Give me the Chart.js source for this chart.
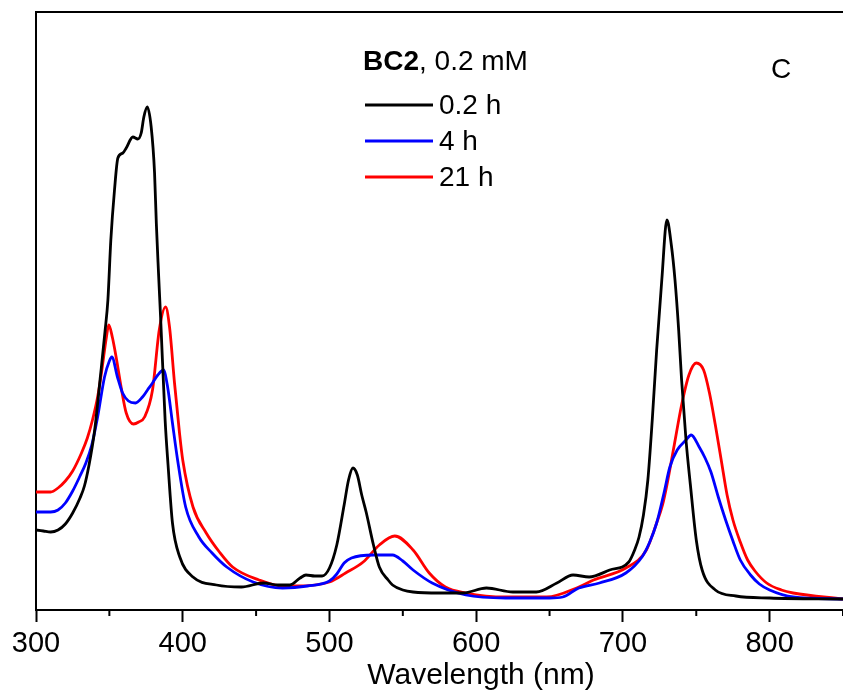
<!DOCTYPE html>
<html>
<head>
<meta charset="utf-8">
<script src="https://cdn.jsdelivr.net/npm/chart.js@4.4.0/dist/chart.umd.min.js"></script>
<style>
  html, body { margin: 0; padding: 0; background: #fff; }
  #wrap { width: 843px; height: 693px; position: relative; }
</style>
</head>
<body>
<div id="wrap"><canvas id="chart"></canvas></div>
<script>
// spectra (absorbance, arbitrary scale)
const blackNm = [300, 305, 310, 315, 320, 325, 330, 333, 336, 340, 344, 347, 349, 351, 353.5, 355.8, 359.2, 361.5, 366, 369.4, 371.7, 373.5, 375.8, 378.5, 380.8, 382, 383.5, 385, 388, 390, 393, 398, 407, 423, 440, 455, 465, 473, 480, 484, 490, 495, 500, 505, 510, 513, 516, 519, 522, 525, 530, 534, 540, 543, 550, 557, 575, 591, 607, 625, 641, 655, 666, 677, 691, 704, 708, 711, 714, 717, 720, 723, 726.5, 730, 733, 735.5, 738, 740, 743, 746, 750, 754, 763, 777, 800, 850];
const blackAbs = [0.160, 0.158, 0.156, 0.160, 0.172, 0.194, 0.224, 0.248, 0.288, 0.360, 0.470, 0.556, 0.620, 0.740, 0.840, 0.904, 0.914, 0.924, 0.946, 0.942, 0.954, 0.986, 1.006, 0.966, 0.874, 0.774, 0.674, 0.580, 0.380, 0.290, 0.174, 0.106, 0.066, 0.050, 0.046, 0.054, 0.050, 0.050, 0.064, 0.070, 0.068, 0.068, 0.084, 0.130, 0.210, 0.260, 0.284, 0.270, 0.230, 0.196, 0.130, 0.086, 0.060, 0.050, 0.040, 0.036, 0.034, 0.034, 0.044, 0.036, 0.036, 0.054, 0.070, 0.066, 0.080, 0.096, 0.120, 0.146, 0.190, 0.260, 0.380, 0.520, 0.660, 0.780, 0.730, 0.660, 0.560, 0.460, 0.340, 0.250, 0.140, 0.080, 0.040, 0.028, 0.024, 0.022];

const blueNm = [300, 310, 315, 320, 325, 330, 334, 338, 342, 346.7, 350, 351.7, 355.5, 359, 363, 367.8, 372.6, 376, 379.4, 383, 386.9, 389.7, 393, 396.5, 402, 411, 420, 430, 448, 468, 485, 500, 505, 510, 515, 530, 543, 550, 557, 570, 593, 620, 650, 659, 670, 684, 702, 713, 718, 723, 728, 732, 737, 743, 746.5, 752, 756, 760, 765, 770, 775, 780, 787, 793, 800, 816, 850];
const blueAbs = [0.196, 0.196, 0.200, 0.214, 0.238, 0.268, 0.294, 0.330, 0.386, 0.466, 0.498, 0.506, 0.466, 0.434, 0.418, 0.414, 0.426, 0.440, 0.454, 0.470, 0.480, 0.446, 0.374, 0.300, 0.206, 0.146, 0.114, 0.086, 0.056, 0.044, 0.048, 0.058, 0.072, 0.094, 0.104, 0.110, 0.110, 0.098, 0.080, 0.054, 0.030, 0.024, 0.024, 0.026, 0.044, 0.054, 0.074, 0.106, 0.134, 0.174, 0.234, 0.286, 0.320, 0.340, 0.350, 0.326, 0.304, 0.276, 0.226, 0.180, 0.138, 0.100, 0.070, 0.052, 0.040, 0.026, 0.022];

const redNm = [300, 310, 315, 320, 325, 331, 335, 338.5, 342, 344.6, 348, 349.6, 352, 354.6, 358, 361.5, 366.5, 370, 374, 379.4, 384, 388.3, 391, 394.4, 397.8, 400, 407, 416, 425, 434, 452, 468, 477, 500, 511, 523, 534, 544.5, 557, 568, 579, 593, 620, 648, 670, 680, 702, 716, 723, 727, 730, 735, 740, 745, 750, 755, 759, 763, 767, 771, 775, 780, 785, 790, 798, 808, 816, 850];
const redAbs = [0.236, 0.236, 0.244, 0.258, 0.278, 0.314, 0.344, 0.380, 0.426, 0.474, 0.546, 0.570, 0.546, 0.506, 0.446, 0.394, 0.372, 0.376, 0.386, 0.440, 0.560, 0.606, 0.566, 0.454, 0.354, 0.300, 0.206, 0.154, 0.116, 0.086, 0.060, 0.048, 0.048, 0.056, 0.074, 0.096, 0.130, 0.148, 0.120, 0.074, 0.046, 0.034, 0.026, 0.026, 0.046, 0.060, 0.084, 0.120, 0.174, 0.210, 0.250, 0.330, 0.410, 0.470, 0.494, 0.480, 0.434, 0.370, 0.300, 0.230, 0.180, 0.136, 0.100, 0.078, 0.054, 0.040, 0.034, 0.022];

const seriesLabels = ['0.2 h', '4 h', '21 h'];
const seriesColors = ['#000000', '#0000ff', '#ff0000'];
const xTicks = [300, 400, 500, 600, 700, 800];
const minorTicks = [350, 450, 550, 650, 750, 850];

const FONT = '"Liberation Sans", Arial, sans-serif';

function pts(xs, ys) {
  return xs.map((x, i) => ({x: x, y: ys[i]}));
}

// minor ticks, axis title, legend box and panel letter
const extras = {
  id: 'extras',
  afterDraw(chart) {
    const ctx = chart.ctx;
    const xs = chart.scales.x;
    const area = chart.chartArea;
    ctx.save();
    ctx.strokeStyle = '#000';
    ctx.lineWidth = 2;
    minorTicks.forEach(v => {
      const px = xs.getPixelForValue(v);
      ctx.beginPath();
      ctx.moveTo(px, area.bottom);
      ctx.lineTo(px, area.bottom + 6);
      ctx.stroke();
    });

    ctx.fillStyle = '#000';
    // x axis title (sits right of the plot centre in the original figure)
    ctx.textAlign = 'center';
    ctx.textBaseline = 'alphabetic';
    ctx.font = '30px ' + FONT;
    ctx.fillText('Wavelength (nm)', 481, 684);

    // legend
    ctx.textBaseline = 'middle';
    ctx.textAlign = 'left';
    const lx = 363;
    ctx.font = 'bold 28px ' + FONT;
    ctx.fillText('BC2', lx, 62);
    const bw = ctx.measureText('BC2').width;
    ctx.font = '28px ' + FONT;
    ctx.fillText(', 0.2 mM', lx + bw, 62);

    const rows = [105, 141, 177];
    chart.data.datasets.forEach((ds, i) => {
      ctx.strokeStyle = ds.borderColor;
      ctx.lineWidth = 3;
      ctx.beginPath();
      ctx.moveTo(365, rows[i]);
      ctx.lineTo(433, rows[i]);
      ctx.stroke();
      ctx.fillStyle = '#000';
      ctx.fillText(ds.label, 439, rows[i] + 1);
    });

    ctx.fillText('C', 771, 70);
    ctx.restore();
  }
};

new Chart(document.getElementById('chart'), {
  type: 'line',
  data: {
    datasets: [
      {label: seriesLabels[0], data: pts(blackNm, blackAbs), borderColor: seriesColors[0]},
      {label: seriesLabels[1], data: pts(blueNm, blueAbs), borderColor: seriesColors[1]},
      {label: seriesLabels[2], data: pts(redNm, redAbs), borderColor: seriesColors[2]}
    ]
  },
  options: {
    responsive: true,
    maintainAspectRatio: false,
    animation: false,
    layout: {padding: 0},
    elements: {
      line: {borderWidth: 2.8, cubicInterpolationMode: 'monotone', fill: false},
      point: {radius: 0}
    },
    plugins: {
      legend: {display: false},
      tooltip: {enabled: false}
    },
    scales: {
      x: {
        type: 'linear',
        position: 'bottom',
        min: 300,
        max: 850,
        afterBuildTicks: (s) => { s.ticks = xTicks.map(v => ({value: v})); },
        afterFit: (s) => { s.height = 83; },
        ticks: {
          color: '#000',
          font: {family: FONT, size: 29},
          padding: 5,
          maxRotation: 0,
          autoSkip: false
        },
        grid: {
          display: true,
          drawOnChartArea: false,
          drawTicks: true,
          tickLength: 12,
          tickWidth: 2,
          tickColor: '#000'
        },
        border: {display: true, color: '#000', width: 2},
        title: {display: false}
      },
      x2: {
        type: 'linear',
        position: 'top',
        min: 300,
        max: 850,
        afterFit: (s) => { s.height = 12; },
        ticks: {display: false},
        grid: {display: false},
        border: {display: true, color: '#000', width: 2}
      },
      y: {
        type: 'linear',
        min: 0,
        max: 1.196,
        afterFit: (s) => { s.width = 36; },
        ticks: {display: false},
        grid: {display: false},
        border: {display: true, color: '#000', width: 2}
      }
    }
  },
  plugins: [extras]
});
</script>
</body>
</html>
